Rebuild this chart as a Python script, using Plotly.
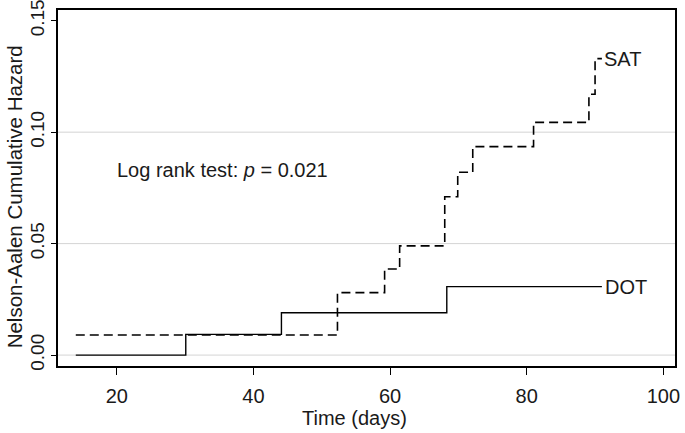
import plotly.graph_objs as go

# Nelson-Aalen step curves (time in days, cumulative hazard)
sat_time = [14, 52.3, 59.2, 61.4, 68.0, 69.9, 72.1, 81.0, 89.1, 90.0, 91.0]
sat_haz = [0.009, 0.028, 0.0386, 0.049, 0.071, 0.082, 0.0935, 0.1044, 0.117, 0.133, 0.133]
dot_time = [14, 30.1, 44.1, 68.3, 91.0]
dot_haz = [0.0, 0.0093, 0.019, 0.0307, 0.0307]

x_ticks = [20, 40, 60, 80, 100]
y_ticks = [0.00, 0.05, 0.10, 0.15]
y_ticklabels = ['0.00', '0.05', '0.10', '0.15']
grid_y = [0.00, 0.05, 0.10]

font_txt = 'Liberation Sans, Arial, sans-serif'
ink = '#1a1a1a'

fig = go.Figure()

# 점선: SAT
fig.add_trace(go.Scatter(x=sat_time, y=sat_haz, mode='lines', line_shape='hv',
                         line=dict(color='black', width=1.6, dash='9px,5px'),
                         showlegend=False, hoverinfo='skip'))
# 실선: DOT
fig.add_trace(go.Scatter(x=dot_time, y=dot_haz, mode='lines', line_shape='hv',
                         line=dict(color='black', width=1.4),
                         showlegend=False, hoverinfo='skip'))

# 가로 격자선 (0.15 는 없음)
for g in grid_y:
    fig.add_shape(type='line', xref='paper', x0=0, x1=1, yref='y', y0=g, y1=g,
                  line=dict(color='#d4d4d4', width=1), layer='below')

# 곡선 끝 라벨
fig.add_annotation(x=sat_time[-1], y=sat_haz[-1], text='SAT', showarrow=False,
                   xanchor='left', yanchor='middle', xshift=0,
                   font=dict(family=font_txt, size=20, color=ink))
fig.add_annotation(x=dot_time[-1], y=dot_haz[-1], text='DOT', showarrow=False,
                   xanchor='left', yanchor='middle', xshift=1,
                   font=dict(family=font_txt, size=20, color=ink))

fig.add_annotation(x=20, y=0.083, text='Log rank test: <i>p</i> = 0.021', showarrow=False,
                   xanchor='left', yanchor='middle', xshift=-2,
                   font=dict(family=font_txt, size=20, color=ink))

# 축 제목
fig.add_annotation(xref='paper', yref='paper', x=0.48, y=-0.145, text='Time (days)',
                   showarrow=False, xanchor='center', yanchor='middle',
                   font=dict(family=font_txt, size=20, color=ink))
fig.add_annotation(xref='paper', yref='paper', x=-0.07, y=0.476,
                   text='Nelson-Aalen Cumulative Hazard', textangle=-90,
                   showarrow=False, xanchor='center', yanchor='middle',
                   font=dict(family=font_txt, size=20.5, color=ink))

fig.update_layout(
    width=685, height=433,
    margin=dict(l=58, r=10, t=10, b=67),
    paper_bgcolor='white', plot_bgcolor='white',
    font=dict(family=font_txt, size=20, color=ink),
    xaxis=dict(range=[11.4, 101.7], tickvals=x_ticks, showgrid=False, zeroline=False,
               automargin=False,
               showline=True, linecolor='black', linewidth=2, mirror=True,
               ticks='outside', ticklen=7, tickwidth=1.3, tickcolor='black',
               ticklabelstandoff=4, tickfont=dict(size=20, color=ink)),
    yaxis=dict(range=[-0.0049, 0.1548], tickvals=y_ticks, ticktext=y_ticklabels,
               showgrid=False, zeroline=False, automargin=False, ticklabeloverflow='allow',
               showline=True, linecolor='black', linewidth=1.5, mirror=True,
               ticks='outside', ticklen=5, tickwidth=1.3, tickcolor='black',
               tickangle=-90, tickfont=dict(size=19, color=ink)),
)

# 페이지 기본 여백(8px) 제거
fig.write_html("out.html", config={'displayModeBar': False},
               post_script="document.body.style.margin='0';")
